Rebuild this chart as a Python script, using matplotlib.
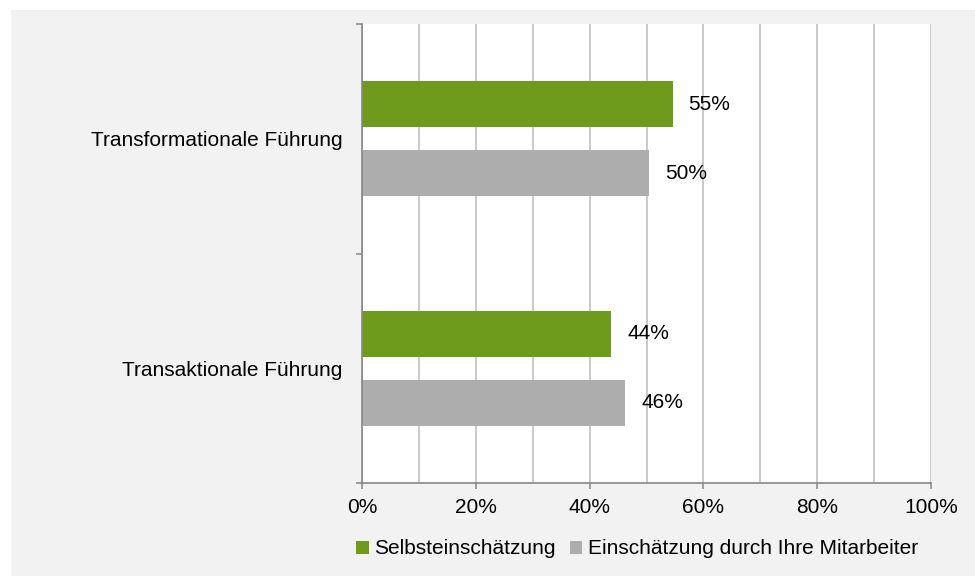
import matplotlib
matplotlib.use('Agg')
import matplotlib.pyplot as plt
from matplotlib.patches import Patch, Rectangle
import numpy as np

plt.rcParams['font.family'] = ['Liberation Sans', 'DejaVu Sans']

# data
categories = ['Transaktionale Führung', 'Transformationale Führung']
series_names = ['Selbsteinschätzung', 'Einschätzung durch Ihre Mitarbeiter']
selbst = [43.8, 54.6]
mitarbeiter = [46.3, 50.4]
x_ticks = [0, 20, 40, 60, 80, 100]

green = '#6e9b1c'
grey = '#adadad'
axis_col = '#868686'
grid_col = '#c0c0c0'
bg = '#f2f2f2'

fig = plt.figure(figsize=(9.75, 5.76), dpi=100)
fig.patch.set_facecolor('white')
fig.patches.append(Rectangle((11 / 975, 0), 1, 1 - 10 / 576, transform=fig.transFigure,
                             facecolor=bg, edgecolor='none', zorder=-5))

ax = fig.add_axes([362 / 975, 1 - 483 / 576, 569 / 975, 459 / 576])
ax.set_facecolor('white')

y = np.arange(len(categories))
h = 0.2
off = 0.15
b1 = ax.barh(y + off, selbst, height=h, color=green, zorder=3)
b2 = ax.barh(y - off, mitarbeiter, height=h, color=grey, zorder=3)

for bars, vals in [(b1, selbst), (b2, mitarbeiter)]:
    for bar, v in zip(bars, vals):
        ax.annotate('{:.0f}%'.format(v), (v, bar.get_y() + bar.get_height() / 2),
                    xytext=(11.5, 0), textcoords='offset points',
                    ha='left', va='center', fontsize=15, color='black', zorder=4)

ax.set_xlim(0, 100)
ax.set_ylim(-0.5, 1.5)

ax.set_xticks(x_ticks)
ax.set_xticklabels(['{}%'.format(t) for t in x_ticks])
ax.set_xticks(np.arange(0, 101, 10), minor=True)
ax.grid(axis='x', which='both', color=grid_col, linewidth=1.2, zorder=1)
ax.set_axisbelow(True)

ax.set_yticks([-0.5, 0.5, 1.5])
ax.set_yticklabels([])
ax.set_yticks(y, minor=True)
ax.set_yticklabels(categories, minor=True)
ax.tick_params(axis='y', which='minor', length=0, pad=14, labelsize=15)
ax.tick_params(axis='y', which='major', length=4, color=axis_col, width=1.1)
ax.tick_params(axis='x', which='major', length=4, color=axis_col, width=1.1, pad=7, labelsize=15)
ax.tick_params(axis='x', which='minor', length=0)

for s in ['top', 'right']:
    ax.spines[s].set_visible(False)
for s in ['left', 'bottom']:
    ax.spines[s].set_color(axis_col)
    ax.spines[s].set_linewidth(1.2)
    ax.spines[s].set_zorder(4)

handles = [Patch(facecolor=green), Patch(facecolor=grey)]
fig.legend(handles, series_names, loc='center', bbox_to_anchor=(637 / 975, 1 - 549 / 576),
           ncol=2, frameon=False, fontsize=15, handlelength=0.6, handleheight=0.6,
           handletextpad=0.25, columnspacing=0.7)

fig.savefig('out.png', dpi=100, facecolor=fig.get_facecolor())
